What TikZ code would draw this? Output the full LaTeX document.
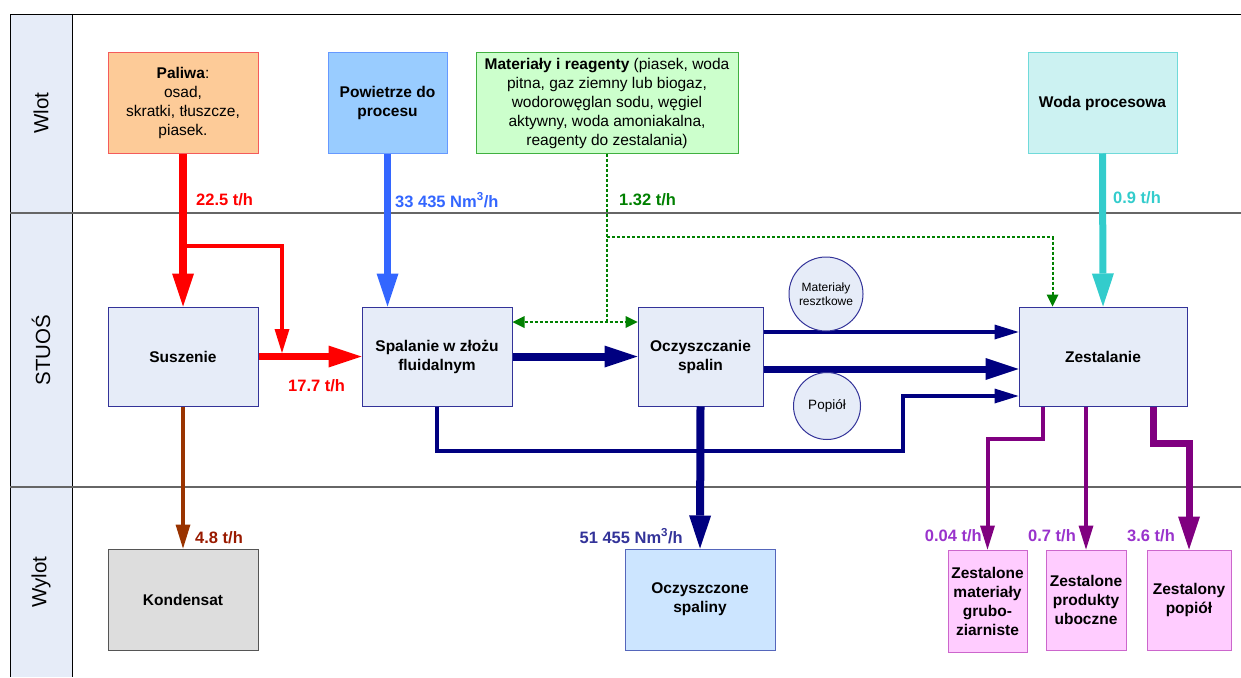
\documentclass[tikz,border=0pt]{standalone}
\usepackage{fontspec}
\setmainfont{Liberation Sans}
\usetikzlibrary{arrows.meta}

\definecolor{palfill}{HTML}{FDCB98}
\definecolor{palline}{HTML}{F45B5B}
\definecolor{powfill}{HTML}{99CCFF}
\definecolor{powline}{HTML}{6699FF}
\definecolor{matfill}{HTML}{CCFFCC}
\definecolor{matline}{HTML}{40B040}
\definecolor{wodfill}{HTML}{CCF2F2}
\definecolor{wodline}{HTML}{70DADA}
\definecolor{procfill}{HTML}{E6ECF8}
\definecolor{procline}{HTML}{333399}
\definecolor{konfill}{HTML}{DDDDDD}
\definecolor{konline}{HTML}{555555}
\definecolor{spfill}{HTML}{CCE5FF}
\definecolor{spline}{HTML}{5566BB}
\definecolor{zfill}{HTML}{FFCCFF}
\definecolor{zline}{HTML}{CC66CC}
\definecolor{lanefill}{HTML}{E6ECF8}
\definecolor{redflow}{HTML}{FF0000}
\definecolor{blueflow}{HTML}{3366FF}
\definecolor{greenflow}{HTML}{008000}
\definecolor{cyanflow}{HTML}{33CCCC}
\definecolor{navyflow}{HTML}{000080}
\definecolor{brownflow}{HTML}{993300}
\definecolor{purpleflow}{HTML}{800080}
\definecolor{navylbl}{HTML}{333399}
\definecolor{brownlbl}{HTML}{991A00}
\definecolor{purplelbl}{HTML}{9933CC}

\begin{document}
\begin{tikzpicture}[x=1pt,y=-1pt,
    box/.style={line width=1pt,inner sep=2pt,align=center,font=\fontsize{15.5}{19}\selectfont},
    procbox/.style={box,draw=procline,fill=procfill,font=\fontsize{15.5}{19}\selectfont\bfseries},
    roundbox/.style={circle,draw=procline,fill=procfill,line width=1pt,inner sep=0pt,align=center},
    bigtip/.style={-{Triangle[length=33pt,width=22pt,line width=0pt]}},
    midtip/.style={-{Triangle[length=24pt,width=15pt,line width=0pt]}},
    dottip/.style={-{Triangle[length=12pt,width=12pt,line width=0pt]}},
    dotboth/.style={{Triangle[length=12pt,width=12pt,line width=0pt]}-{Triangle[length=12pt,width=12pt,line width=0pt]}},
    dotline/.style={greenflow,line width=2pt,dash pattern=on 3pt off 2pt},
    flowlbl/.style={anchor=west,inner sep=0pt,font=\fontsize{16.5}{19}\selectfont\bfseries},
    lanelbl/.style={rotate=90,font=\fontsize{20.5}{24}\selectfont}]

    \useasboundingbox (0,0) rectangle (1241,677);

    % lanes
    \fill[lanefill] (10,14) rectangle (72,677);
    \draw (10,677) -- (10,14) -- (1241,14);
    \draw (72,14) -- (72,677);
    \draw[black!60,line width=1.2pt] (10,213) -- (1241,213);
    \draw[black!60,line width=1.2pt] (10,487) -- (1241,487);
    \node[lanelbl] (wlot) at (41,113) {Wlot};
    \node[lanelbl] (stuos) at (41,350) {STUOŚ};
    \node[lanelbl] (wylot) at (41,582) {Wylot};

    % wlot
    \node[box,draw=palline,fill=palfill,minimum width=150pt,minimum height=100pt] (paliwa) at (183,103)
        {\textbf{Paliwa}:\\osad,\\skratki, tłuszcze,\\piasek.};
    \node[box,draw=powline,fill=powfill,minimum width=119pt,minimum height=100pt,font=\fontsize{15.5}{19}\selectfont\bfseries] (powietrze) at (387.5,103)
        {Powietrze do\\procesu};
    \node[box,draw=matline,fill=matfill,minimum width=262pt,minimum height=100pt] (materialy) at (607,103)
        {\textbf{Materiały i reagenty} (piasek, woda\\pitna, gaz ziemny lub biogaz,\\wodorowęglan sodu, węgiel\\aktywny, woda amoniakalna,\\reagenty do zestalania)};
    \node[box,draw=wodline,fill=wodfill,minimum width=149pt,minimum height=100pt,font=\fontsize{15.5}{19}\selectfont\bfseries] (woda) at (1102.5,103)
        {Woda procesowa};

    % stuos
    \node[procbox,minimum width=150pt,minimum height=99pt] (suszenie) at (183,356.5) {Suszenie};
    \node[procbox,minimum width=150pt,minimum height=99pt] (spalanie) at (437,356.5) {Spalanie w złożu\\fluidalnym};
    \node[procbox,minimum width=125pt,minimum height=99pt] (oczyszczanie) at (700.5,356.5) {Oczyszczanie\\spalin};
    \node[procbox,minimum width=168pt,minimum height=99pt] (zestalanie) at (1103,356.5) {Zestalanie};

    % wylot
    \node[box,draw=konline,fill=konfill,minimum width=150pt,minimum height=101pt,font=\fontsize{15.5}{19}\selectfont\bfseries] (kondensat) at (183,599.5) {Kondensat};
    \node[box,draw=spline,fill=spfill,minimum width=150pt,minimum height=101pt,font=\fontsize{15.5}{19}\selectfont\bfseries] (spaliny) at (700,599.5) {Oczyszczone\\spaliny};
    \node[box,draw=zline,fill=zfill,minimum width=79pt,minimum height=102pt,inner sep=0pt,font=\fontsize{15.5}{19}\selectfont\bfseries] (zm) at (987.5,601) {Zestalone\\materiały\\grubo-\\ziarniste};
    \node[box,draw=zline,fill=zfill,minimum width=80pt,minimum height=100pt,inner sep=0pt,font=\fontsize{15.5}{19}\selectfont\bfseries] (zp) at (1086,600) {Zestalone\\produkty\\uboczne};
    \node[box,draw=zline,fill=zfill,minimum width=84pt,minimum height=100pt,inner sep=0pt,font=\fontsize{15.5}{19}\selectfont\bfseries] (zpop) at (1189,600) {Zestalony\\popiół};

    % paliwo
    \draw[redflow,line width=7.5pt,bigtip] (paliwa.south) -- (suszenie.north);
    \coordinate (fork) at (183,246);
    \coordinate (join) at (282,353);
    \draw[redflow,line width=4.5pt,midtip] (fork) -| (join);
    \draw[redflow,line width=7.5pt,bigtip] (suszenie.east) -- (spalanie.west);

    % powietrze, woda
    \draw[blueflow,line width=7pt,bigtip] (powietrze.south) -- (powietrze.south |- spalanie.north);
    \draw[cyanflow,line width=7pt,bigtip] (woda.south) -- (zestalanie.north);

    % reagenty
    \coordinate (gsplit) at (materialy.south |- 0,322);
    \coordinate (gtop) at (materialy.south |- 0,237);
    \draw[dotline] (materialy.south) -- (gsplit);
    \draw[dotline,dotboth] (spalanie.east |- gsplit) -- (oczyszczanie.west |- gsplit);
    \draw[dotline,dottip] (gtop) -| ([xshift=34pt]zestalanie.north west);

    % spaliny
    \draw[navyflow,line width=8pt,bigtip] (spalanie.east) -- (oczyszczanie.west);
    \draw[navyflow,line width=4pt,midtip] ([yshift=24.5pt]oczyszczanie.east) -- ([yshift=24.5pt]zestalanie.west);
    \draw[navyflow,line width=7pt,bigtip] ([yshift=-12.5pt]oczyszczanie.east) -- ([yshift=-12.5pt]zestalanie.west);
    \coordinate (loop) at (903,451);
    \draw[navyflow,line width=4pt,midtip] (spalanie.south) |- (loop) |- ([yshift=-39.5pt]zestalanie.west);
    \draw[navyflow,line width=8pt,bigtip] (oczyszczanie.south) -- (spaliny.north);

    \node[roundbox,minimum size=74pt,font=\fontsize{12}{14}\selectfont] (resztki) at (826,294) {Materiały\\resztkowe};
    \node[roundbox,minimum size=67pt,font=\fontsize{13.5}{16}\selectfont] (popiol) at (827,406) {Popiół};

    % wyloty
    \draw[brownflow,line width=4pt,midtip] (suszenie.south) -- (kondensat.north);
    \draw[purpleflow,line width=4pt,midtip] ([xshift=-60pt]zestalanie.south) -- ++(0,32) -| (zm.north);
    \draw[purpleflow,line width=4pt,midtip] (zp.north |- zestalanie.south) -- (zp.north);
    \draw[purpleflow,line width=7pt,bigtip] ([xshift=50pt]zestalanie.south) -- ++(0,37) -| (zpop.north);

    % strumienie
    \node[flowlbl,redflow] (l225) at (196,200) {22.5 t/h};
    \node[flowlbl,blueflow] (l33) at (395,200) {33 435 Nm\textsuperscript{3}/h};
    \node[flowlbl,greenflow] (l132) at (619,200) {1.32 t/h};
    \node[flowlbl,cyanflow] (l09) at (1113,198) {0.9 t/h};
    \node[flowlbl,redflow] (l177) at (288,386) {17.7 t/h};
    \node[flowlbl,navylbl,anchor=east] (l51) at (683,536) {51 455 Nm\textsuperscript{3}/h};
    \node[flowlbl,brownlbl] (l48) at (195,538) {4.8 t/h};
    \node[flowlbl,purplelbl,anchor=east] (l004) at (982,536) {0.04 t/h};
    \node[flowlbl,purplelbl] (l07) at (1028,536) {0.7 t/h};
    \node[flowlbl,purplelbl] (l36) at (1127,536) {3.6 t/h};

\end{tikzpicture}
\end{document}
